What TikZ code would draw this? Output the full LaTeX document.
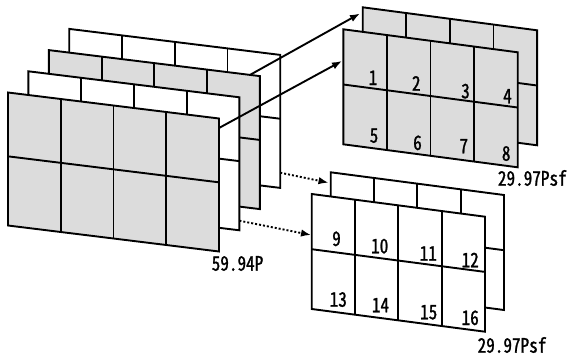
\documentclass[tikz,border=0pt]{standalone}
\usepackage{fontspec}
\newfontfamily\gothic[RawFeature=+hwid, FakeBold=1.2, FakeStretch=0.86]{Noto Sans CJK JP}
\usetikzlibrary{arrows.meta}
\definecolor{panelgray}{RGB}{220,220,220}
\tikzset{
  frame/.style={line width=1.9pt, line join=miter},
  lbl/.style={font=\gothic\fontsize{20}{20}\selectfont, inner sep=0pt, anchor=base},
  solidarrow/.style={line width=1.9pt, -{Latex[length=10pt,width=7.5pt]}},
  dotarrow/.style={line width=1.9pt, dash pattern=on 2pt off 2pt, -{Latex[length=10pt,width=7.5pt]}},
}
% #1,#2 top-left corner, #3 width, #4 height, #5 drop of the top edge, #6 fill
\newcommand\framepanel[6]{%
  \filldraw[frame, fill=#6] (#1,#2) -- ++(#3,#5) -- ++(0,#4) -- ++(-#3,-#5) -- cycle;
  \foreach \k in {1,2,3}{\draw[frame] (#1+\k*#3/4,#2+\k*#5/4) -- ++(0,#4);}
  \draw[frame] (#1,#2+0.48*#4) -- ++(#3,#5);
}
\begin{document}
\begin{tikzpicture}[x=1pt,y=-1pt]
\useasboundingbox (0,0) rectangle (570,356);

% 59.94P: four fields, back to front
\framepanel{69.2}{28.9}{211}{133}{26}{white}
\framepanel{48.8}{50.1}{211}{133}{26}{panelgray}
\framepanel{28.4}{71.3}{211}{133}{26}{white}
\framepanel{8}{92.5}{211}{133}{26}{panelgray}

% upper 29.97Psf pair
\framepanel{362.7}{7.3}{174.4}{115}{23}{panelgray}
\framepanel{343.3}{29.3}{174.4}{115}{23}{panelgray}

% lower 29.97Psf pair
\framepanel{330.7}{172.3}{173.3}{115}{22.7}{white}
\framepanel{311.7}{194}{173.3}{115}{22.7}{white}

% connector ends
\coordinate (s1) at (250,74.9);
\coordinate (s2) at (219,128);
\coordinate (e1) at (360,13.5);
\coordinate (e2) at (342,61);
\coordinate (s3) at (280.2,172.7);
\coordinate (s4) at (239.4,220.7);
\coordinate (e3) at (328.5,182.7);
\coordinate (e4) at (311,235);

\draw[solidarrow] (s1) -- (e1);
\draw[solidarrow] (s2) -- (e2);
\draw[dotarrow] (s3) -- (e3);
\draw[dotarrow] (s4) -- (e4);

% block numbers
\node[lbl] (n1) at (373,85) {1};
\node[lbl] (n2) at (416.3,90.7) {2};
\node[lbl] (n3) at (465.5,98.3) {3};
\node[lbl] (n4) at (507.5,103.3) {4};
\node[lbl] (n5) at (374,142.7) {5};
\node[lbl] (n6) at (417.5,150) {6};
\node[lbl] (n7) at (463.8,153.3) {7};
\node[lbl] (n8) at (506.2,160.7) {8};
\node[lbl] (n9) at (336.5,246) {9};
\node[lbl] (n10) at (379.7,253.3) {10};
\node[lbl] (n11) at (428.3,260.7) {11};
\node[lbl] (n12) at (470.2,267.3) {12};
\node[lbl] (n13) at (338.3,306.7) {13};
\node[lbl] (n14) at (380.5,312.3) {14};
\node[lbl] (n15) at (428.7,319.3) {15};
\node[lbl] (n16) at (470.2,325) {16};

% rate labels
\node[lbl] (r1) at (237.5,270.7) {59.94P};
\node[lbl] (r2) at (532.3,185.7) {29.97Psf};
\node[lbl] (r3) at (512,352.7) {29.97Psf};
\end{tikzpicture}
\end{document}
